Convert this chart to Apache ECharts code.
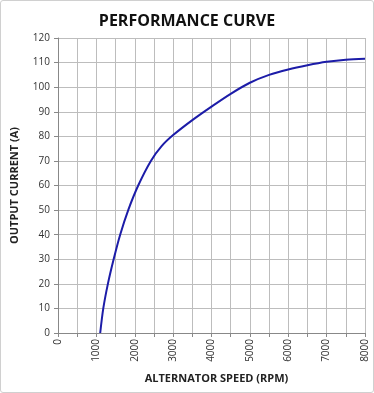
<!DOCTYPE html>
<html><head><meta charset="utf-8">
<script src="https://cdn.jsdelivr.net/npm/echarts@6/dist/echarts.min.js"></script>
<style>html,body{margin:0;padding:0;background:#fff}#c{width:374px;height:393px;box-sizing:border-box;border:1px solid #d0d0d0;border-radius:3px}</style>
</head><body><div id="c"></div>
<script>
const speedRpm = [1100,1180,1300,1450,1620,1830,2090,2420,2700,3000,3500,4000,4500,5000,5500,6000,6500,7000,7500,8000];
const currentA = [0,10,20,30,40,50,60,70,76,80.5,86.6,92.1,97.3,101.8,105,107.2,108.9,110.3,111.2,111.6];
const titleText = 'PERFORMANCE CURVE';
const xName = 'ALTERNATOR SPEED (RPM)';
const yName = 'OUTPUT CURRENT (A)';
const chart = echarts.init(document.getElementById('c'));
const font = '"Open Sans", "Liberation Sans", sans-serif';
chart.setOption({
  animation:false,
  title:{text:titleText,left:'center',top:7,textStyle:{fontFamily:font,fontSize:16,fontWeight:'bold',color:'#111'}},
  grid:{left:56,right:8,top:37,bottom:59},
  xAxis:{type:'value',min:0,max:8000,interval:500,
    name:xName,nameLocation:'middle',nameGap:40,
    nameTextStyle:{fontFamily:font,fontSize:11,fontWeight:'bold',color:'#222',padding:[0,0,0,10]},
    axisLine:{show:true,lineStyle:{color:'#888'}},
    axisTick:{show:true,length:4,lineStyle:{color:'#888'}},
    splitLine:{show:true,lineStyle:{color:'#bdbdbd'}},
    axisLabel:{rotate:90,fontFamily:font,fontSize:10,color:'#333',margin:6,
      formatter:v=> v%1000===0 ? String(v) : ''}},
  yAxis:{type:'value',min:0,max:120,interval:10,
    name:yName,nameLocation:'middle',nameGap:38,
    nameTextStyle:{fontFamily:font,fontSize:11,fontWeight:'bold',color:'#222'},
    axisLine:{show:true,lineStyle:{color:'#888'}},
    axisTick:{show:true,length:4,lineStyle:{color:'#888'}},
    splitLine:{show:true,lineStyle:{color:'#bdbdbd'}},
    axisLabel:{fontFamily:font,fontSize:10,color:'#333',margin:8}},
  series:[{type:'line',data:speedRpm.map((s,i)=>[s,currentA[i]]),smooth:0.3,showSymbol:false,
    lineStyle:{color:'#1c1ca8',width:2}}]
});
</script></body></html>
